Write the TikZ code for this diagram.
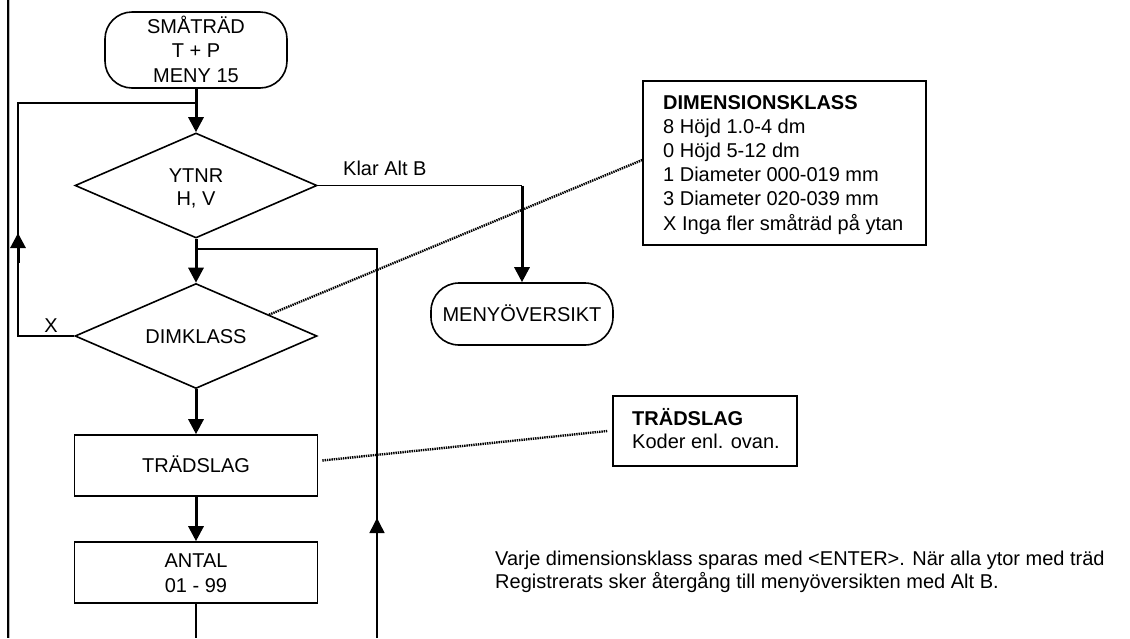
\documentclass[tikz,border=0pt]{standalone}
\usepackage{fontspec}
\setmainfont{Liberation Sans}
\usetikzlibrary{shapes.geometric,arrows.meta,calc}
\tikzset{
  txt/.style={inner sep=0pt, font=\fontsize{20}{24}\selectfont},
  termbox/.style={draw, line width=1.6pt, inner sep=0pt},
  decision/.style={diamond, draw, line width=1.6pt, inner sep=0pt, aspect=2.3, minimum width=242pt, minimum height=105pt},
  procbox/.style={draw, line width=1.6pt, inner sep=0pt, minimum width=243pt, minimum height=61pt},
  notebox/.style={draw, line width=1.6pt, inner sep=0pt},
  thinln/.style={line width=1.5pt},
  thickarr/.style={line width=3pt, -{Triangle[width=15pt,length=15pt]}},
  uparr/.style={line width=1.5pt, -{Triangle[width=15pt,length=15pt]}},
  dotln/.style={line width=2.4pt, dash pattern=on 1.4pt off 0.9pt},
}
\begin{document}
\begin{tikzpicture}[x=1pt,y=-1pt]
\useasboundingbox (0,0) rectangle (1130,638);
\fill[white] (0,0) rectangle (1130,638);

% page edge line
\coordinate (pl1) at (8,0);
\coordinate (pl2) at (8,638);
\draw[line width=3pt, gray!55] (pl1) -- (pl2);
\draw[line width=1.2pt] (pl1) -- (pl2);

% flowchart shapes
\node[termbox, rounded corners=27pt, minimum width=182pt, minimum height=76pt] (start) at (196,50) {};
\node[decision] (ytnr) at (196,185.5) {};
\node[decision] (dim) at (196,336) {};
\node[procbox] (trad) at (196,465.5) {};
\node[procbox] (antal) at (196,572.5) {};
\node[termbox, rounded corners=28pt, minimum width=182pt, minimum height=62pt] (meny) at (522,314) {};
\node[notebox, minimum width=283pt, minimum height=164pt] (dimnote) at (784.5,163) {};
\node[notebox, minimum width=184pt, minimum height=70pt] (tradnote) at (705,431) {};

% texts in flowchart
\node[txt, anchor=base] (s1) at (196,33) {SMÅTRÄD};
\node[txt, anchor=base] (s2) at (196,57.5) {T + P};
\node[txt, anchor=base] (s3) at (196,82) {MENY 15};
\node[txt, anchor=base] (y1) at (196,182) {YTNR};
\node[txt, anchor=base] (y2) at (196,205) {H, V};
\node[txt, anchor=base] (d1) at (196,343) {DIMKLASS};
\node[txt, anchor=base] (t1) at (196,472.5) {TRÄDSLAG};
\node[txt, anchor=base] (a1) at (196,567) {ANTAL};
\node[txt, anchor=base] (a2) at (196,592) {01 - 99};
\node[txt, anchor=base] (m1) at (522,321) {MENYÖVERSIKT};
\node[txt, anchor=base west] (klar) at (343,175) {Klar Alt B};
\node[txt, anchor=base] (xlab) at (51,332) {X};

% note texts
\node[txt, anchor=base west, font=\fontsize{20}{24}\selectfont\bfseries] (n0) at (663,109) {DIMENSIONSKLASS};
\node[txt, anchor=base west] (n1) at (663,133.2) {8 Höjd 1.0-4 dm};
\node[txt, anchor=base west] (n2) at (663,157.4) {0 Höjd 5-12 dm};
\node[txt, anchor=base west] (n3) at (663,181.6) {1 Diameter 000-019 mm};
\node[txt, anchor=base west] (n4) at (663,205.8) {3 Diameter 020-039 mm};
\node[txt, anchor=base west] (n5) at (663,230) {X Inga fler småträd på ytan};
\node[txt, anchor=base west, font=\fontsize{20}{24}\selectfont\bfseries] (tn0) at (632,425) {TRÄDSLAG};
\node[txt, anchor=base west] (tn1) at (632,448.5) {Koder enl. ovan.};
\node[txt, anchor=base west] (b1) at (495,565) {Varje dimensionsklass sparas med <ENTER>. När alla ytor med träd};
\node[txt, anchor=base west] (b2) at (495,588) {Registrerats sker återgång till menyöversikten med Alt B.};

% coordinates
\coordinate (j1) at (196,103);
\coordinate (lt) at (18,103);
\coordinate (lb) at (18,336);
\coordinate (la1) at (18,263);
\coordinate (la2) at (18,233);
\coordinate (k1) at (522,185.5);
\coordinate (j2) at (196,249);
\coordinate (k2) at (377,249);
\coordinate (k3) at (377,638);
\coordinate (ra1) at (377,545);
\coordinate (ra2) at (377,518);
\coordinate (ab) at (196,638);
\coordinate (dp) at ($(dim.north)!0.6!(dim.east)$);

% connectors
\draw[thickarr] (start.south) -- (ytnr.north);
\draw[thickarr] (ytnr.south) -- (dim.north);
\draw[thickarr] (dim.south) -- (trad.north);
\draw[thickarr] (trad.south) -- (antal.north);
\draw[thinln] (dim.west) -- (lb) -- (lt) -- (j1);
\draw[thickarr] (la1) -- (la2);
\draw[thinln] (ytnr.east) -- (k1);
\draw[thickarr] (k1) -- (meny.north);
\draw[thinln] (j2) -- (k2) -- (k3);
\draw[uparr] (ra1) -- (ra2);
\draw[thinln] (antal.south) -- (ab);

% dotted leaders
\draw[dotln] (dp) -- ([yshift=3pt]dimnote.west);
\draw[dotln] ([xshift=4pt,yshift=5pt]trad.east) -- ([xshift=-5pt]tradnote.west);
\end{tikzpicture}
\end{document}
